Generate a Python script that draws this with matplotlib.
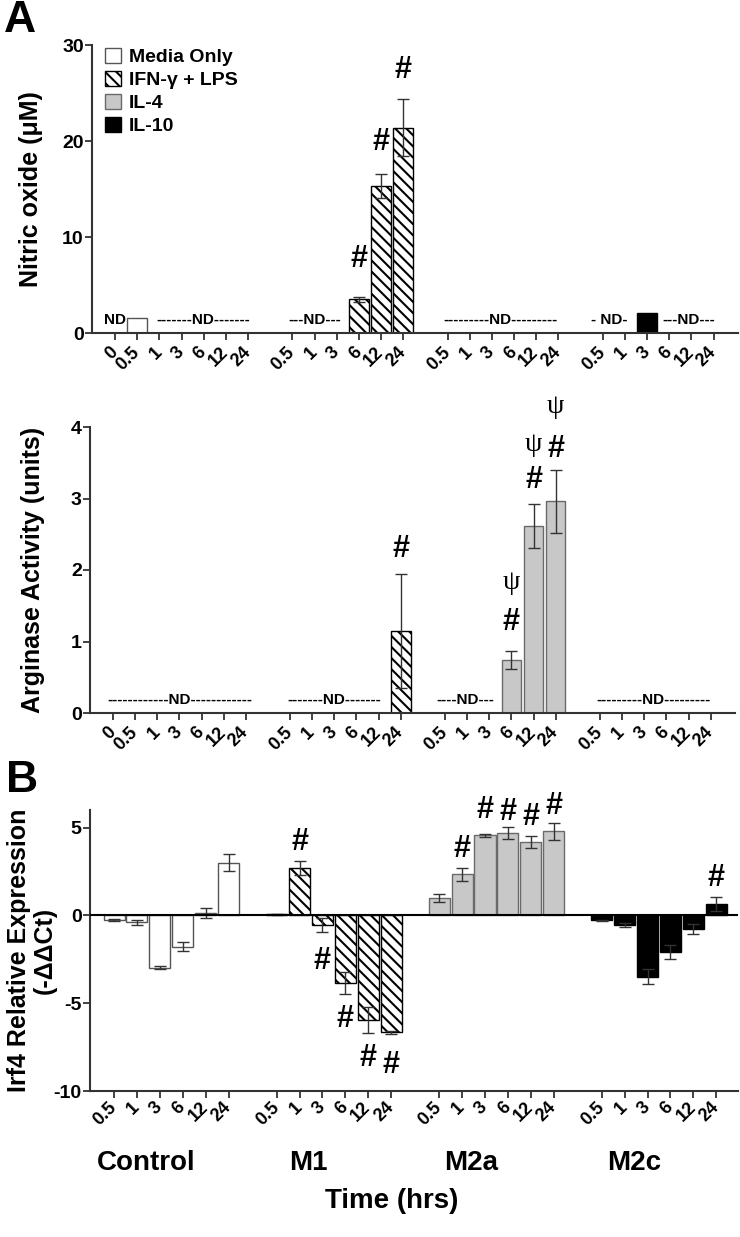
import numpy as np
import matplotlib
matplotlib.use("Agg")
import matplotlib.pyplot as plt

plt.rcParams['font.family'] = ['Liberation Sans', 'DejaVu Sans']
plt.rcParams['font.weight'] = 'bold'
plt.rcParams['hatch.linewidth'] = 1.5
plt.rcParams['axes.linewidth'] = 1.5
plt.rcParams['axes.edgecolor'] = '#333333'
plt.rcParams['axes.unicode_minus'] = False

nan = np.nan

#Tiempos (horas) y grupos
tiempos_control_A = ['0', '0.5', '1', '3', '6', '12', '24']
tiempos = ['0.5', '1', '3', '6', '12', '24']
grupos = ['Control', 'M1', 'M2a', 'M2c']
tratamientos = ['Media Only', 'IFN-γ + LPS', 'IL-4', 'IL-10']

#Oxido nitrico (uM), nan = no detectado
no_control = [nan, 1.55, nan, nan, nan, nan, nan]
no_m1 = [nan, nan, nan, 3.5, 15.3, 21.4]
no_m1_err = [nan, nan, nan, 0.3, 1.25, 3.0]
no_m2a = [nan, nan, nan, nan, nan, nan]
no_m2c = [nan, nan, 2.05, nan, nan, nan]

#Actividad de arginasa (unidades)
arg_control = [nan, nan, nan, nan, nan, nan, nan]
arg_m1 = [nan, nan, nan, nan, nan, 1.15]
arg_m1_err = [nan, nan, nan, nan, nan, 0.8]
arg_m2a = [nan, nan, nan, 0.74, 2.62, 2.96]
arg_m2a_err = [nan, nan, nan, 0.13, 0.31, 0.44]
arg_m2c = [nan, nan, nan, nan, nan, nan]

#Irf4 expresion relativa (-ddCt)
irf_control = [-0.28, -0.4, -2.97, -1.78, 0.15, 3.0]
irf_control_err = [0.05, 0.15, 0.08, 0.25, 0.28, 0.5]
irf_m1 = [0.05, 2.7, -0.55, -3.85, -5.95, -6.65]
irf_m1_err = [0.03, 0.4, 0.4, 0.65, 0.75, 0.08]
irf_m2a = [0.97, 2.33, 4.56, 4.7, 4.17, 4.8]
irf_m2a_err = [0.22, 0.38, 0.08, 0.35, 0.33, 0.48]
irf_m2c = [-0.28, -0.55, -3.5, -2.1, -0.78, 0.65]
irf_m2c_err = [0.03, 0.12, 0.42, 0.4, 0.3, 0.38]

#Estilo de cada tratamiento
estilos = {
    'Media Only': dict(facecolor='white', edgecolor='#555555'),
    'IFN-γ + LPS': dict(facecolor='white', edgecolor='black', hatch='\\\\\\'),
    'IL-4': dict(facecolor='#c8c8c8', edgecolor='#6a6a6a'),
    'IL-10': dict(facecolor='black', edgecolor='black'),
}

#Posiciones en x de cada grupo
pos_A = [np.arange(0, 7), np.arange(8, 14), np.arange(15, 21), np.arange(22, 28)]
pos_B = [g * 7.1 + np.arange(6) for g in range(4)]


def barras(ax, pos, vals, errs, trat, ancho):
    cont = ax.bar(pos, vals, width=ancho, label=trat, zorder=2, linewidth=1, **estilos[trat])
    if errs is not None:
        ax.errorbar(pos, vals, yerr=errs, fmt='none', ecolor='#333333', elinewidth=1,
                    capsize=4.5, capthick=1, zorder=3)
    return cont


def marca(ax, x, y, s='#'):
    if s == '#':
        ax.text(x, y, s, ha='center', va='center', fontsize=22, fontweight='bold', clip_on=False)
    else:
        ax.text(x, y, s, ha='center', va='center', fontsize=20, fontweight='normal',
                family=['Liberation Serif', 'DejaVu Serif'], clip_on=False)


def estilo_ejes(ax, ticks_y, etiquetas_x, pos_x, pad_x):
    ax.spines['top'].set_visible(False)
    ax.spines['right'].set_visible(False)
    ax.set_yticks(ticks_y)
    ax.tick_params(axis='y', length=5, width=1.3, pad=1, labelsize=14, color='#333333')
    ax.tick_params(axis='x', length=5, width=1.3, pad=pad_x, color='#333333')
    ax.set_xticks(np.concatenate(pos_x))
    ax.set_xticklabels(etiquetas_x, rotation=45, ha='right', va='center',
                       rotation_mode='anchor', fontsize=13)


fig = plt.figure(figsize=(7.4, 12.37), dpi=100)
W, H = 740, 1237

#Panel A superior: oxido nitrico
ax1 = fig.add_axes([92 / W, 1 - 333 / H, 646 / W, 288 / H])
datos_no = [(no_control, None), (no_m1, no_m1_err), (no_m2a, None), (no_m2c, None)]
for k in range(4):
    barras(ax1, pos_A[k], datos_no[k][0], datos_no[k][1], tratamientos[k], 0.88)
ax1.set_xlim(-1.04, 28.1)
ax1.set_ylim(0, 30)
estilo_ejes(ax1, [0, 10, 20, 30], tiempos_control_A + tiempos * 3, pos_A, 7)
ax1.set_ylabel('Nitric oxide (μM)', fontsize=18, fontweight='bold')
ax1.yaxis.set_label_coords(-0.076, 0.5)
ax1.legend(loc='upper left', bbox_to_anchor=(0.02, 0.99), frameon=False, fontsize=14,
           handlelength=0.82, handleheight=0.82, handletextpad=0.4, labelspacing=0.24,
           borderpad=0, borderaxespad=0)
nd_no = [(0, 'ND'), (4, '-------ND-------'), (9, '---ND---'), (17.4, '---------ND---------'),
         (22.3, '- ND-'), (25.9, '---ND---')]
for x, s in nd_no:
    ax1.text(x, 1.35, s, ha='center', va='center', fontsize=11, fontweight='bold')
for i, y in [(3, 7.7), (4, 19.9), (5, 27.4)]:
    marca(ax1, pos_A[1][i], y)

#Panel A inferior: arginasa
ax2 = fig.add_axes([90 / W, 1 - 713 / H, 645 / W, 286 / H])
datos_arg = [(arg_control, None), (arg_m1, arg_m1_err), (arg_m2a, arg_m2a_err), (arg_m2c, None)]
for k in range(4):
    barras(ax2, pos_A[k], datos_arg[k][0], datos_arg[k][1], tratamientos[k], 0.88)
ax2.set_xlim(-1.04, 28.1)
ax2.set_ylim(0, 4)
estilo_ejes(ax2, [0, 1, 2, 3, 4], tiempos_control_A + tiempos * 3, pos_A, 7)
ax2.set_ylabel('Arginase Activity (units)', fontsize=18, fontweight='bold')
ax2.yaxis.set_label_coords(-0.07, 0.5)
nd_arg = [(3, '------------ND------------'), (10, '-------ND-------'), (15.9, '----ND---'),
          (24.4, '---------ND---------')]
for x, s in nd_arg:
    ax2.text(x, 0.18, s, ha='center', va='center', fontsize=11, fontweight='bold')
marca(ax2, pos_A[1][5], 2.3)
for i, y in [(3, 1.27), (4, 3.26), (5, 3.69)]:
    marca(ax2, pos_A[2][i], y)
for i, y in [(3, 1.82), (4, 3.76), (5, 4.28)]:
    marca(ax2, pos_A[2][i], y, 'ψ')

#Panel B: Irf4
ax3 = fig.add_axes([90 / W, 1 - 1091 / H, 648 / W, 281 / H])
datos_irf = [(irf_control, irf_control_err), (irf_m1, irf_m1_err),
             (irf_m2a, irf_m2a_err), (irf_m2c, irf_m2c_err)]
for k in range(4):
    barras(ax3, pos_B[k], datos_irf[k][0], datos_irf[k][1], tratamientos[k], 0.92)
ax3.axhline(0, color='black', linewidth=1.5, zorder=4)
ax3.set_xlim(-1.05, 27.25)
ax3.set_ylim(-10, 6)
estilo_ejes(ax3, [-10, -5, 0, 5], tiempos * 4, pos_B, 5)
ax3.set_ylabel('Irf4 Relative Expression\n(-ΔΔCt)', fontsize=18, fontweight='bold',
               linespacing=1.1)
ax3.yaxis.set_label_coords(-0.051, 0.5)
for i, y in [(1, 4.2), (2, -2.6), (3, -5.9), (4, -8.1), (5, -8.5)]:
    marca(ax3, pos_B[1][i], y)
for i, y in [(1, 3.8), (2, 6.0), (3, 5.9), (4, 5.6), (5, 6.2)]:
    marca(ax3, pos_B[2][i], y)
marca(ax3, pos_B[3][5], 2.1)

#Nombres de los grupos y eje de tiempo
for k in range(4):
    ax3.text(pos_B[k][0] + 1.4, -0.256, grupos[k], transform=ax3.get_xaxis_transform(),
             ha='center', va='center', fontsize=20, fontweight='bold')
fig.text(392 / W, 1 - 1201 / H, 'Time (hrs)', ha='center', va='center', fontsize=20,
         fontweight='bold')

#Letras de los paneles
fig.text(4 / W, 1 - 0 / H, 'A', ha='left', va='top', fontsize=32, fontweight='bold')
fig.text(6 / W, 1 - 760 / H, 'B', ha='left', va='top', fontsize=32, fontweight='bold')

fig.savefig('out.png', dpi=100)
